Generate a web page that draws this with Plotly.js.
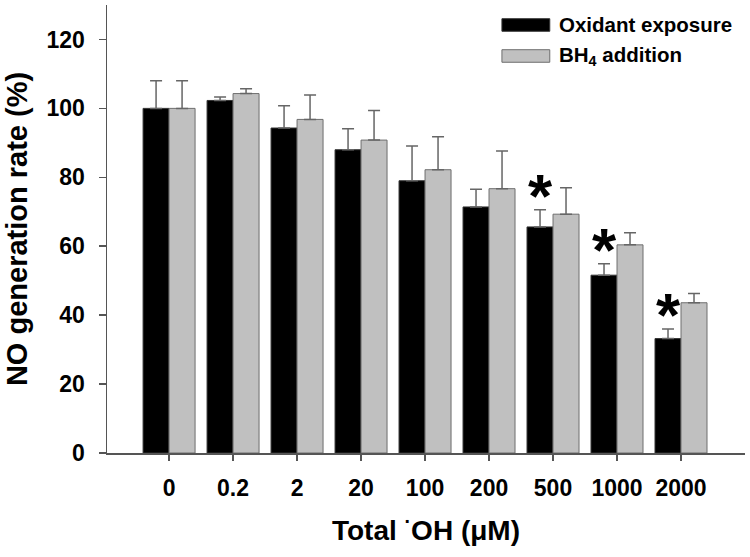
<!DOCTYPE html>
<html>
<head>
<meta charset="utf-8">
<script src="https://cdn.plot.ly/plotly-3.0.1.min.js"></script>
<style>html,body{margin:0;padding:0;background:#fff;}#chart{width:750px;height:557px;}</style>
</head>
<body>
<div id="chart"></div>
<script>
// ---- data ----
var categories = ["0", "0.2", "2", "20", "100", "200", "500", "1000", "2000"];
var oxidantMean = [100, 102.3, 94.3, 88.0, 79.0, 71.4, 65.6, 51.6, 33.2];
var oxidantErr  = [8.0, 1.0, 6.5, 6.1, 10.1, 5.1, 5.0, 3.3, 2.8];
var bh4Mean     = [100, 104.3, 96.8, 90.8, 82.2, 76.7, 69.3, 60.4, 43.6];
var bh4Err      = [8.0, 1.4, 7.1, 8.6, 9.6, 10.9, 7.7, 3.5, 2.7];
var significant = [false, false, false, false, false, false, true, true, true];
var seriesNames = ["Oxidant exposure", "BH<sub>4</sub> addition"];

var FONT = "Liberation Sans, Arial, Helvetica, sans-serif";
var zeros = categories.map(function(){return 0;});

var traces = [
  {
    type: "bar", name: seriesNames[0], x: categories, y: oxidantMean,
    marker: {color: "#000000", line: {color: "#333333", width: 1}},
    error_y: {type: "data", symmetric: false, array: oxidantErr, arrayminus: zeros,
              color: "#666666", thickness: 1.5, width: 6}
  },
  {
    type: "bar", name: seriesNames[1], x: categories, y: bh4Mean,
    marker: {color: "#c0c0c0", line: {color: "#6e6e6e", width: 1}},
    error_y: {type: "data", symmetric: false, array: bh4Err, arrayminus: zeros,
              color: "#666666", thickness: 1.5, width: 6}
  }
];

var annotations = [];
significant.forEach(function(s, i){
  if (s) {
    annotations.push({
      x: i - 0.2, y: oxidantMean[i] + oxidantErr[i], xref: "x", yref: "y",
      text: "*", showarrow: false, xanchor: "center", yanchor: "middle",
      yshift: 14,
      font: {family: FONT, size: 62, color: "#000", weight: "bold"}
    });
  }
});

// custom legend (wide swatches)
var legX0 = 0.619, legX1 = 0.694, legTextX = 0.705;
var legY = [0.9554, 0.8862], legH = 0.014;
var legColors = ["#000000", "#c0c0c0"], legLines = ["#333333", "#6e6e6e"];
var shapes = [];
for (var k = 0; k < 2; k++) {
  shapes.push({type: "rect", xref: "paper", yref: "paper",
    x0: legX0, x1: legX1, y0: legY[k] - legH, y1: legY[k] + legH,
    fillcolor: legColors[k], line: {color: legLines[k], width: 1}});
  annotations.push({xref: "paper", yref: "paper", x: legTextX, y: legY[k],
    xanchor: "left", yanchor: "middle", showarrow: false, text: seriesNames[k],
    font: {family: FONT, size: 20.5, color: "#000", weight: "bold"}});
}

var layout = {
  width: 750, height: 557,
  margin: {l: 107, r: 5, t: 5, b: 104},
  paper_bgcolor: "#fff", plot_bgcolor: "#fff",
  showlegend: false,
  barmode: "group", bargap: 0.1875, bargroupgap: 0,
  font: {family: FONT, color: "#000"},
  xaxis: {
    type: "category", range: [-0.97, 9.0],
    showline: true, linecolor: "#555", linewidth: 1.5,
    ticks: "outside", ticklen: 6, tickwidth: 1.5, tickcolor: "#555",
    showgrid: false, zeroline: false,
    tickfont: {family: FONT, size: 23, color: "#000", weight: "bold"},
    ticklabelstandoff: 8,
    title: {text: "Total <sup>·</sup>OH (μM)", standoff: 20,
            font: {family: FONT, size: 28, color: "#000", weight: "bold"}}
  },
  yaxis: {
    range: [0, 130], tickvals: [0, 20, 40, 60, 80, 100, 120],
    showline: true, linecolor: "#555", linewidth: 1.5,
    ticks: "outside", ticklen: 7, tickwidth: 1.5, tickcolor: "#555",
    showgrid: false, zeroline: false,
    tickfont: {family: FONT, size: 23, color: "#000", weight: "bold"},
    ticklabelstandoff: 9,
    title: {text: "NO generation rate (%)", standoff: 10,
            font: {family: FONT, size: 29, color: "#000", weight: "bold"}}
  },
  shapes: shapes,
  annotations: annotations
};

Plotly.newPlot("chart", traces, layout, {displayModeBar: false, staticPlot: true});
</script>
</body>
</html>
